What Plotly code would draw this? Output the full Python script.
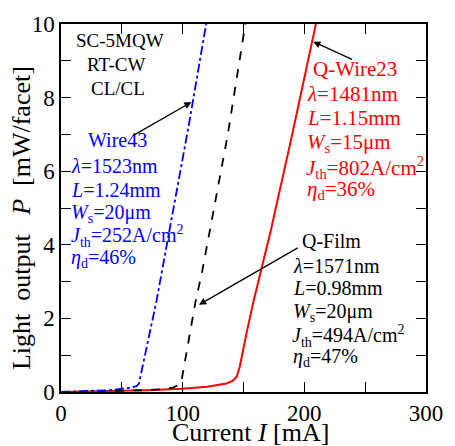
import plotly.graph_objects as go

# ---- data ----
current_wire43 = [0, 20, 40, 50, 58, 62, 64, 78.4, 83, 105.3, 119.3]
power_wire43 = [0, 0.02, 0.05, 0.09, 0.12, 0.16, 0.22, 2.46, 3.27, 7.3, 10]

current_film = [0, 40, 70, 85, 92, 98.6, 110.6, 116, 137, 151.5]
power_film = [0, 0.02, 0.05, 0.08, 0.12, 0.22, 2.46, 3.27, 6.98, 10]

current_wire23 = [0, 40, 70, 100, 120, 136, 141, 144.5, 147, 152.5, 158.2, 172.4, 189.9, 209.5]
power_wire23 = [0, 0.02, 0.05, 0.09, 0.14, 0.23, 0.3, 0.42, 0.7, 1.6, 2.46, 4.38, 6.98, 10]

x_tickvals = [0, 50, 100, 150, 200, 250, 300]
x_ticktext = ["0", "", "100", "", "200", "", "300"]
y_tickvals = [0, 1, 2, 3, 4, 5, 6, 7, 8, 9, 10]
y_ticktext = ["0", "", "2", "", "4", "", "6", "", "8", "", "10"]

FONT = "Liberation Serif, Times New Roman, serif"

W, H = 455, 446
L, R, T, B = 61, 22, 19, 54
PW, PH = W - L - R, H - T - B


def px(x):
    return (x - L) / PW


def py(y):
    return (H - B - y) / PH


fig = go.Figure()
fig.add_trace(go.Scatter(x=current_wire23, y=power_wire23, mode="lines",
                         line=dict(color="red", width=2), showlegend=False))
fig.add_trace(go.Scatter(x=current_film, y=power_film, mode="lines",
                         line=dict(color="black", width=1.8, dash="dash"), showlegend=False))
fig.add_trace(go.Scatter(x=current_wire43, y=power_wire43, mode="lines",
                         line=dict(color="blue", width=1.8, dash="dashdot"), showlegend=False))

ann = []
DY = 4  # offset between glyph centre and annotation box centre


def text(t, x, y, color, size, xanchor="left"):
    ann.append(dict(text=t, x=px(x), y=py(y - DY), xref="paper", yref="paper",
                    xanchor=xanchor, yanchor="middle", showarrow=False,
                    font=dict(family=FONT, size=size, color=color)))


def sub(s):
    return "<sub>" + s + "</sub>"


# header
text("SC-5MQW", 121, 40, "black", 19, "center")
text("RT-CW", 117, 64, "black", 19, "center")
text("CL/CL", 119, 88, "black", 19, "center")

# Wire43 (blue)
BS = 20
text("Wire43", 86, 141, "blue", BS)
text("<i>λ</i>=1523nm", 69, 167, "blue", BS)
text("<i>L</i>=1.24mm", 69, 191, "blue", BS)
text("<i>W</i>" + sub("s") + "=20μm", 69, 215, "blue", BS)
text("<i>J</i>" + sub("th") + "=252A/cm<sup>2</sup>", 69, 238, "blue", BS)
text("<i>η</i>" + sub("d") + "=46%", 69, 261, "blue", BS)

# Q-Wire23 (red)
RS = 21
text("Q-Wire23", 316, 69, "red", RS)
text("<i>λ</i>=1481nm", 310, 94, "red", RS)
text("<i>L</i>=1.15mm", 310, 118, "red", RS)
text("<i>W</i>" + sub("s") + "=15μm", 310, 144, "red", RS)
text("<i>J</i>" + sub("th") + "=802A/cm<sup>2</sup>", 309, 168, "red", RS)
text("<i>η</i>" + sub("d") + "=36%", 310, 191, "red", RS)

# Q-Film (black)
KS = 20
text("Q-Film", 305, 243, "black", KS)
text("<i>λ</i>=1571nm", 295, 268, "black", KS)
text("<i>L</i>=0.98mm", 295, 291, "black", KS)
text("<i>W</i>" + sub("s") + "=20μm", 295, 315, "black", KS)
text("<i>J</i>" + sub("th") + "=494A/cm<sup>2</sup>", 294, 339, "black", KS)
text("<i>η</i>" + sub("d") + "=47%", 295, 361, "black", KS)

# arrows (head and tail in data coords)
for (hx, hy, tx, ty) in [(107.2, 7.88, 58.3, 6.95),
                         (207.3, 9.52, 240.4, 9.02),
                         (113.4, 2.37, 195.8, 3.94)]:
    ann.append(dict(x=hx, y=hy, ax=tx, ay=ty, xref="x", yref="y", axref="x", ayref="y",
                    showarrow=True, arrowhead=2, arrowsize=1.1, arrowwidth=1.3,
                    arrowcolor="black", text=""))

# axis titles
ann.append(dict(text="Current <i>I</i> [mA]", x=px(254), y=py(433), xref="paper", yref="paper",
                xanchor="center", yanchor="middle", showarrow=False,
                font=dict(family=FONT, size=26, color="black")))
ann.append(dict(text="Light  output   <i>P</i>  [mW/facet]", x=px(21), y=py(216), xref="paper",
                yref="paper", xanchor="center", yanchor="middle", showarrow=False, textangle=-90,
                font=dict(family=FONT, size=26, color="black")))

axis_common = dict(showline=True, linecolor="black", linewidth=1.5, mirror="ticks",
                   ticks="inside", ticklen=10, tickwidth=1.2, tickcolor="black",
                   showgrid=False, zeroline=False,
                   tickfont=dict(family=FONT, size=23, color="black"))

fig.update_layout(
    width=W, height=H,
    margin=dict(l=L, r=R, t=T, b=B),
    paper_bgcolor="white", plot_bgcolor="white",
    xaxis=dict(range=[0, 300], tickmode="array", tickvals=x_tickvals, ticktext=x_ticktext,
               **axis_common),
    yaxis=dict(range=[0, 10], tickmode="array", tickvals=y_tickvals, ticktext=y_ticktext,
               **axis_common),
    annotations=ann,
)

fig.write_html("out.html")
